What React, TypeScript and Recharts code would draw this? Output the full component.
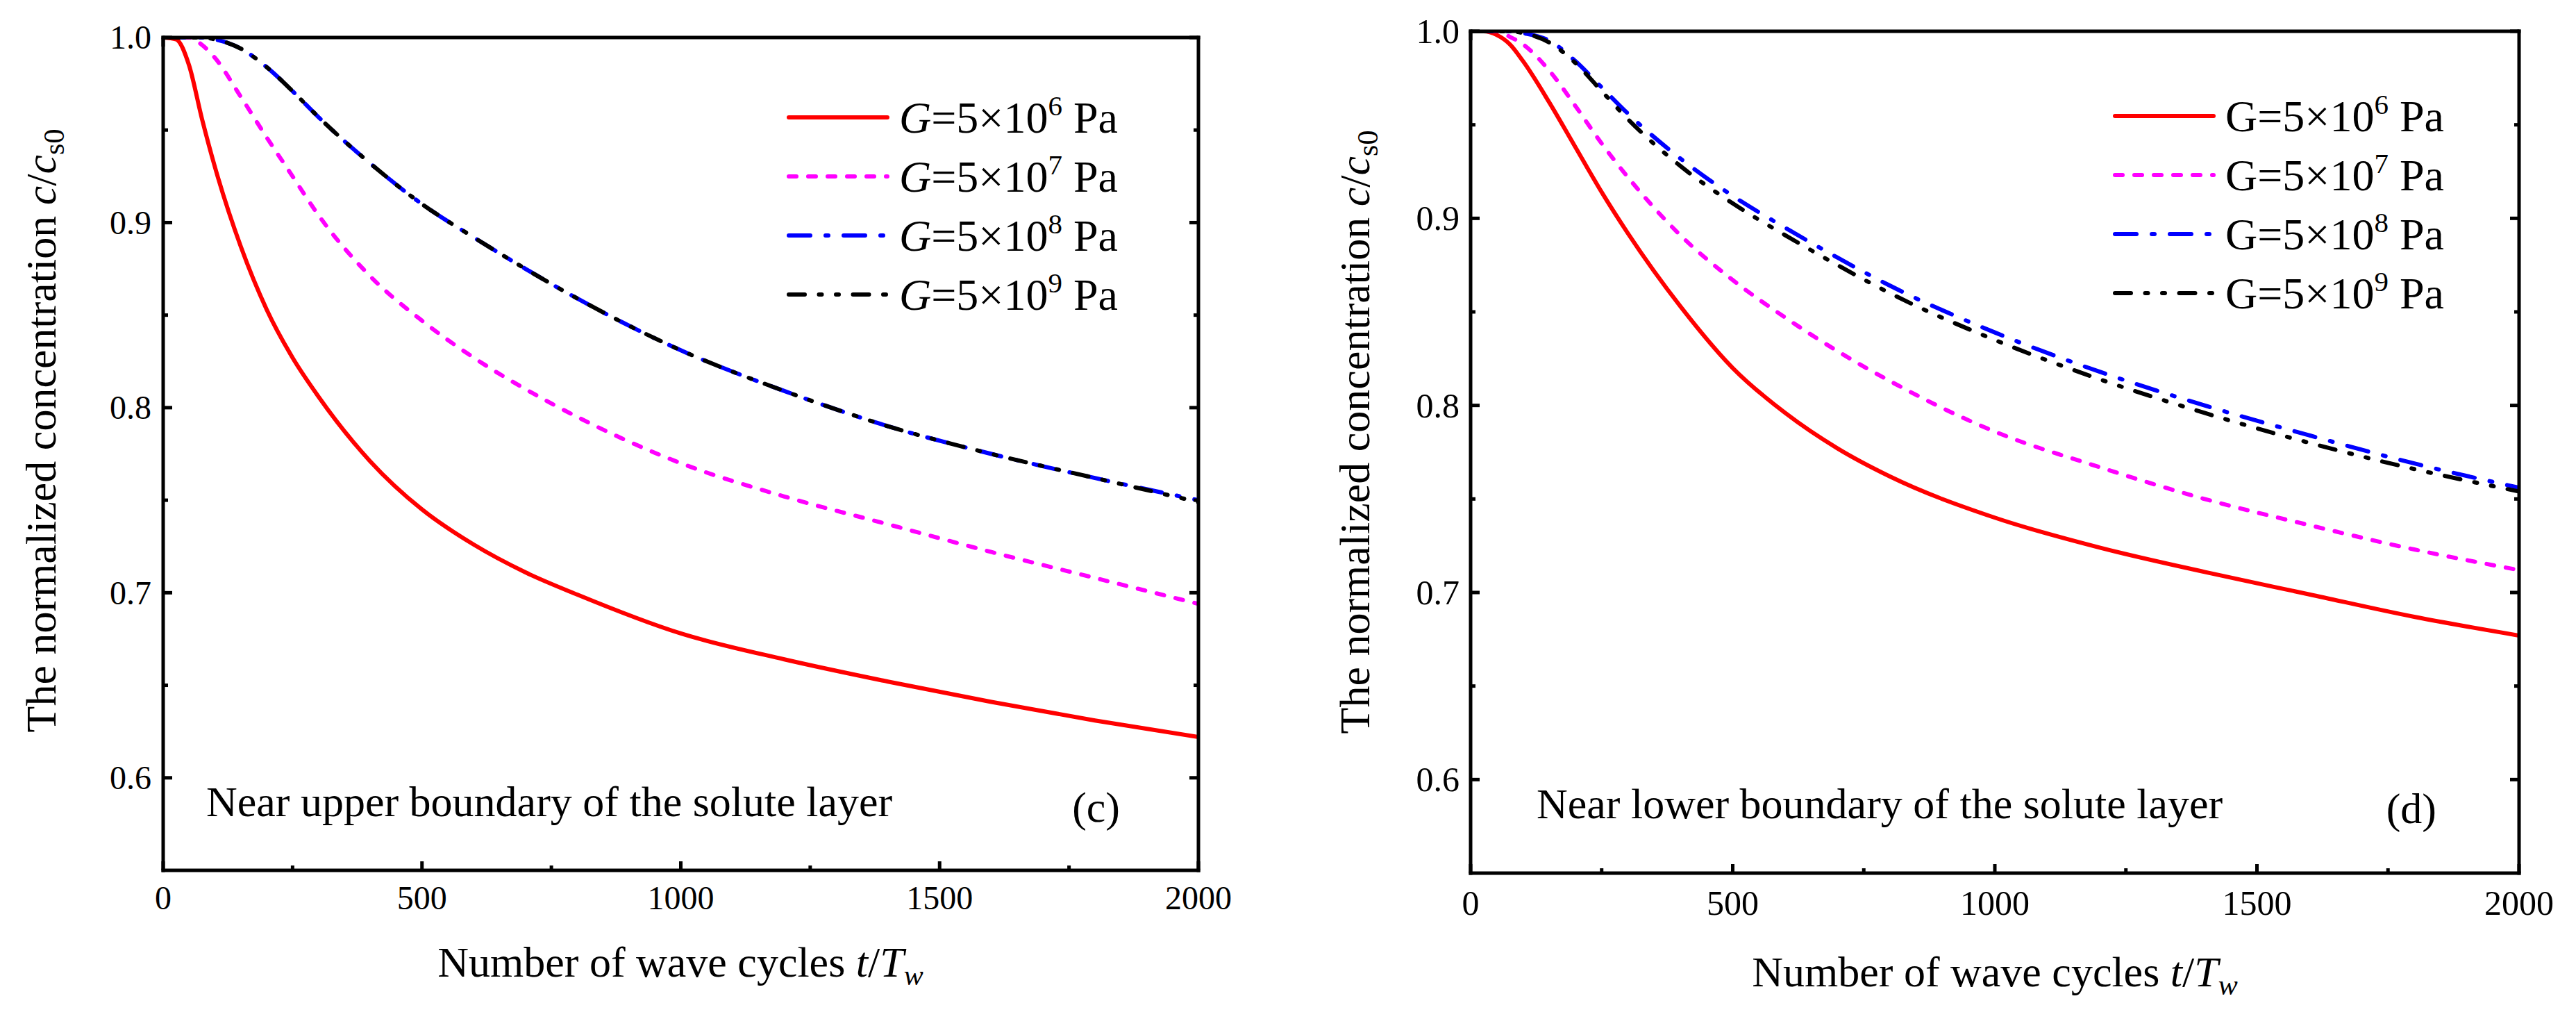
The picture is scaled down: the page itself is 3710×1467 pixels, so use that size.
import { LineChart, Line, XAxis, YAxis, Legend } from 'recharts'

const SERIF = "'Liberation Serif', 'DejaVu Serif', serif"

// sampled wave cycles t/Tw
const cycles = [0, 25, 50, 75, 100, 150, 200, 250, 300, 400, 500, 600, 700, 800, 1000, 1200, 1400, 1600, 1800, 2000]

// (c) near upper boundary of the solute layer
const upperG6 = [1.0, 0.999, 0.985, 0.956, 0.93, 0.887, 0.853, 0.827, 0.806, 0.771, 0.745, 0.726, 0.711, 0.699, 0.678, 0.664, 0.652, 0.641, 0.631, 0.622]
const upperG7 = [1.0, 1.0, 1.0, 0.996, 0.989, 0.968, 0.946, 0.925, 0.904, 0.871, 0.847, 0.827, 0.81, 0.795, 0.77, 0.752, 0.737, 0.722, 0.708, 0.694]
const upperG8 = [1.0, 1.0, 1.0, 1.0, 0.999, 0.994, 0.984, 0.971, 0.957, 0.932, 0.91, 0.892, 0.875, 0.859, 0.831, 0.809, 0.79, 0.775, 0.762, 0.75]
const upperG9 = [1.0, 1.0, 1.0, 1.0, 0.999, 0.994, 0.984, 0.971, 0.957, 0.932, 0.91, 0.892, 0.875, 0.859, 0.831, 0.809, 0.79, 0.775, 0.762, 0.749]

// (d) near lower boundary of the solute layer
const lowerG6 = [1.0, 1.0, 0.998, 0.993, 0.984, 0.962, 0.938, 0.914, 0.892, 0.853, 0.82, 0.796, 0.777, 0.762, 0.74, 0.724, 0.711, 0.699, 0.687, 0.677]
const lowerG7 = [1.0, 1.0, 1.0, 0.997, 0.993, 0.979, 0.96, 0.94, 0.922, 0.891, 0.867, 0.847, 0.829, 0.813, 0.786, 0.767, 0.75, 0.736, 0.723, 0.712]
const lowerG8 = [1.0, 1.0, 1.0, 1.0, 0.999, 0.995, 0.984, 0.97, 0.956, 0.932, 0.912, 0.895, 0.879, 0.864, 0.839, 0.818, 0.8, 0.784, 0.769, 0.756]
const lowerG9 = [1.0, 1.0, 1.0, 1.0, 0.999, 0.994, 0.983, 0.968, 0.953, 0.928, 0.908, 0.891, 0.875, 0.86, 0.835, 0.814, 0.796, 0.78, 0.766, 0.754]

const exponents = [6, 7, 8, 9]
const xTicks = [0, 250, 500, 750, 1000, 1250, 1500, 1750, 2000]
const yTicks = [0.6, 0.65, 0.7, 0.75, 0.8, 0.85, 0.9, 0.95, 1.0]

const seriesStyles = [
  { key: 'g6', color: '#ff0000', dash: undefined },
  { key: 'g7', color: '#ff00ff', dash: '11 17' },
  { key: 'g8', color: '#0000ff', dash: '31 22 4 22' },
  { key: 'g9', color: '#000000', dash: '23 20.5 4 20.5 4 20.5' },
]

const buildRows = (g6: number[], g7: number[], g8: number[], g9: number[]) =>
  cycles.map((t, i) => ({ t, g6: g6[i], g7: g7[i], g8: g8[i], g9: g9[i] }))

const upperData = buildRows(upperG6, upperG7, upperG8, upperG9)
const lowerData = buildRows(lowerG6, lowerG7, lowerG8, lowerG9)

type Side = 'bottom' | 'top' | 'left' | 'right'

const textStyle = (size: number) => ({ fontFamily: SERIF, fontSize: size })

// ticks point inward; labels only on bottom / left majors
function frameTick(side: Side, gap: number, fontSize: number) {
  return (p: any) => {
    const { x, y, payload } = p
    const v = payload.value as number
    const horizontal = side === 'bottom' || side === 'top'
    const major = horizontal ? v % 500 === 0 : Math.abs(v * 10 - Math.round(v * 10)) < 1e-6
    const len = major ? 13 : 7
    const dx = side === 'left' ? len : side === 'right' ? -len : 0
    const dy = side === 'bottom' ? -len : side === 'top' ? len : 0
    return (
      <g>
        <line x1={x} y1={y} x2={x + dx} y2={y + dy} stroke="#000" strokeWidth={5} />
        {major && side === 'bottom' && (
          <text x={x} y={y + gap} textAnchor="middle" style={textStyle(fontSize)} fill="#000">
            {v}
          </text>
        )}
        {major && side === 'left' && (
          <text x={x - gap} y={y} dy="0.34em" textAnchor="end" style={textStyle(fontSize)} fill="#000">
            {v.toFixed(1)}
          </text>
        )}
      </g>
    )
  }
}

function LegendBox({ italicG }: { italicG: boolean }) {
  return (
    <svg width={540} height={360} style={{ overflow: 'visible' }}>
      {seriesStyles.map((s, i) => {
        const cy = 49 + i * 85
        return (
          <g key={s.key}>
            <line x1={16} x2={158} y1={cy} y2={cy} stroke={s.color} strokeWidth={6}
              strokeDasharray={s.dash} strokeLinecap="round" />
            <text x={175} y={cy + 22} style={textStyle(64)} fill="#000">
              <tspan fontStyle={italicG ? 'italic' : 'normal'}>G</tspan>
              <tspan>=5×10</tspan>
              <tspan style={{ fontSize: 41 }} dy={-25}>{exponents[i]}</tspan>
              <tspan dy={25}>{'\u00a0'}Pa</tspan>
            </text>
          </g>
        )
      })}
    </svg>
  )
}

const AXIS_LINE = { stroke: '#000', strokeWidth: 5, strokeLinecap: 'square' as const }

function Panel({ data, chartLeft, plot, tickGapX, tickGapY, tickFont, legendPos, italicG }: any) {
  const W = 1855
  const H = 1467
  const margin = {
    left: plot.left - chartLeft - 100,
    right: chartLeft + W - plot.right - 10,
    top: plot.top - 10,
    bottom: H - plot.bottom - 60,
  }
  return (
    <div style={{ position: 'absolute', left: chartLeft, top: 0 }}>
      <LineChart width={W} height={H} data={data} margin={margin}>
        <XAxis dataKey="t" type="number" domain={[0, 2000]} ticks={xTicks} interval={0} allowDataOverflow
          height={60} tickSize={0} tickMargin={0} tickLine={false} axisLine={AXIS_LINE}
          tick={frameTick('bottom', tickGapX, tickFont)} />
        <XAxis xAxisId="top" orientation="top" type="number" domain={[0, 2000]} ticks={xTicks} interval={0} allowDataOverflow
          height={10} tickSize={0} tickMargin={0} tickLine={false} axisLine={AXIS_LINE}
          tick={frameTick('top', 0, tickFont)} />
        <YAxis type="number" domain={[0.55, 1.0]} ticks={yTicks} interval={0} allowDataOverflow
          width={100} tickSize={0} tickMargin={0} tickLine={false} axisLine={AXIS_LINE}
          tick={frameTick('left', tickGapY, tickFont)} />
        <YAxis yAxisId="right" orientation="right" type="number" domain={[0.55, 1.0]} ticks={yTicks} interval={0} allowDataOverflow
          width={10} tickSize={0} tickMargin={0} tickLine={false} axisLine={AXIS_LINE}
          tick={frameTick('right', 0, tickFont)} />
        <Legend layout="vertical" align="center" verticalAlign="middle"
          wrapperStyle={{ left: legendPos.left, top: legendPos.top, width: 540, height: 360 }}
          content={() => <LegendBox italicG={italicG} />} />
        {seriesStyles.map((s) => (
          <Line key={s.key} dataKey={s.key} type="monotone" stroke={s.color} strokeWidth={6}
            strokeDasharray={s.dash} strokeLinecap="round" dot={false} activeDot={false}
            isAnimationActive={false} />
        ))}
      </LineChart>
    </div>
  )
}

function Titles({ yx, yy, xx, xy, note, noteX, noteY, tag, tagX, tagY }: any) {
  return (
    <g fill="#000">
      <text x={yx} y={yy} transform={`rotate(-90 ${yx} ${yy})`} textAnchor="middle" style={textStyle(62)}>
        <tspan>The normalized concentration </tspan>
        <tspan fontStyle="italic">c</tspan>
        <tspan>/</tspan>
        <tspan fontStyle="italic">c</tspan>
        <tspan style={{ fontSize: 42 }} dy={12}>s0</tspan>
      </text>
      <text x={xx} y={xy} textAnchor="middle" style={textStyle(62)}>
        <tspan>Number of wave cycles </tspan>
        <tspan fontStyle="italic">t</tspan>
        <tspan>/</tspan>
        <tspan fontStyle="italic">T</tspan>
        <tspan fontStyle="italic" style={{ fontSize: 42 }} dy={12}>w</tspan>
      </text>
      <text x={noteX} y={noteY} style={textStyle(62)}>{note}</text>
      <text x={tagX} y={tagY} textAnchor="end" style={textStyle(62)}>{tag}</text>
    </g>
  )
}

export default function App() {
  return (
    <div style={{ position: 'absolute', left: 0, top: 0, width: 3710, height: 1467, background: '#fff' }}>
      <Panel data={upperData} chartLeft={0} plot={{ left: 235, right: 1726, top: 54, bottom: 1253 }}
        tickGapX={56} tickGapY={17} tickFont={48} legendPos={{ left: 1120, top: 120 }} italicG />
      <Panel data={lowerData} chartLeft={1855} plot={{ left: 2118, right: 3628, top: 45, bottom: 1257 }}
        tickGapX={60} tickGapY={16} tickFont={50} legendPos={{ left: 1175, top: 118 }} italicG={false} />
      <svg width={3710} height={1467} style={{ position: 'absolute', left: 0, top: 0, pointerEvents: 'none' }}>
        <Titles yx={80} yy={620} xx={980} xy={1406}
          note="Near upper boundary of the solute layer" noteX={297} noteY={1175}
          tag="(c)" tagX={1613} tagY={1183} />
        <Titles yx={1972} yy={622} xx={2873} xy={1420}
          note="Near lower boundary of the solute layer" noteX={2213} noteY={1178}
          tag="(d)" tagX={3509} tagY={1185} />
      </svg>
    </div>
  )
}
